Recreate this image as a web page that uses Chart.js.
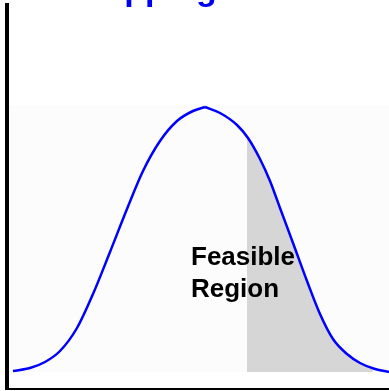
<!DOCTYPE html>
<html>
<head>
<meta charset="utf-8">
<script src="https://cdn.jsdelivr.net/npm/chart.js@4/dist/chart.umd.min.js"></script>
<style>
  html, body { margin: 0; padding: 0; background: #ffffff; }
  #wrap { position: relative; width: 389px; height: 391px; overflow: hidden; }
</style>
</head>
<body>
<div id="wrap"><canvas id="chart" width="389" height="391"></canvas></div>
<script>
// distribution curve, rising side (x position, height above the axis)
const riseX = [13, 30, 45, 60, 77, 93, 110, 127, 143, 160, 177, 193, 205];
const riseY = [18, 21, 27, 38, 61, 95, 137, 180, 218, 248, 268, 278, 282];

// distribution curve, falling side
const fallX = [205, 220, 237, 248, 260, 270, 280, 293, 307, 320, 333, 347, 360, 375, 389];
const fallY = [282, 276, 264, 251, 230, 208, 181, 146, 108, 75, 50, 35, 26, 20, 17];

// shaded feasible region (right tail)
const regionX = [247, 248, 260, 270, 280, 293, 307, 320, 333, 347, 360, 373];
const regionY = [252, 251, 230, 208, 181, 146, 108, 75, 50, 35, 26, 20];
const regionBase = 17;

const titleText = "Mapping";
const regionLabel = ["Feasible", "Region"];

const toPoints = (xs, ys) => xs.map((x, i) => ({ x, y: ys[i] }));

const canvas = document.getElementById("chart");
const ctx = canvas.getContext("2d");

const decorations = {
  id: "decorations",
  beforeDatasetsDraw(chart) {
    const { ctx, chartArea } = chart;
    const yTop = chart.scales.y.getPixelForValue(284);
    const yBot = chart.scales.y.getPixelForValue(regionBase);
    ctx.save();
    ctx.fillStyle = "#fcfcfc";
    ctx.fillRect(chartArea.left + 2, yTop, chartArea.right - chartArea.left, yBot - yTop);
    ctx.restore();
  },
  afterDraw(chart) {
    const { ctx } = chart;
    ctx.save();
    ctx.fillStyle = "#0000f0";
    ctx.font = "bold 34px 'Liberation Sans', Arial, sans-serif";
    ctx.textBaseline = "alphabetic";
    ctx.fillText(titleText, 77, 0);

    ctx.fillStyle = "#000000";
    ctx.font = "bold 26px 'Liberation Sans', Arial, sans-serif";
    ctx.fillText(regionLabel[0], 191, 265);
    ctx.fillText(regionLabel[1], 191, 297);
    ctx.restore();
  },
};

const curveStyle = {
  showLine: true,
  borderColor: "#0000ff",
  borderWidth: 2.5,
  pointRadius: 0,
  tension: 0.4,
  cubicInterpolationMode: "monotone",
  fill: false,
  order: 1,
};

new Chart(ctx, {
  type: "scatter",
  data: {
    datasets: [
      {
        label: "Feasible Region",
        data: toPoints(regionX, regionY),
        showLine: true,
        borderWidth: 0,
        borderColor: "rgba(0,0,0,0)",
        backgroundColor: "#d6d6d6",
        pointRadius: 0,
        tension: 0.4,
        cubicInterpolationMode: "monotone",
        fill: { value: regionBase },
        order: 2,
      },
      { label: "Distribution", data: toPoints(riseX, riseY), ...curveStyle },
      { label: "Distribution ", data: toPoints(fallX, fallY), ...curveStyle },
    ],
  },
  options: {
    responsive: false,
    animation: false,
    layout: { padding: { left: 7, top: 5, right: 0, bottom: 2 } },
    plugins: {
      legend: { display: false },
      title: { display: false },
      tooltip: { enabled: false },
    },
    scales: {
      x: {
        type: "linear",
        min: 7,
        max: 389,
        ticks: { display: false },
        grid: { display: false, drawTicks: false },
        border: { display: true, color: "#000000", width: 2 },
      },
      y: {
        type: "linear",
        min: 0,
        max: 384,
        ticks: { display: false },
        grid: { display: false, drawTicks: false },
        border: { display: true, color: "#000000", width: 4 },
      },
    },
  },
  plugins: [decorations],
});
</script>
</body>
</html>
